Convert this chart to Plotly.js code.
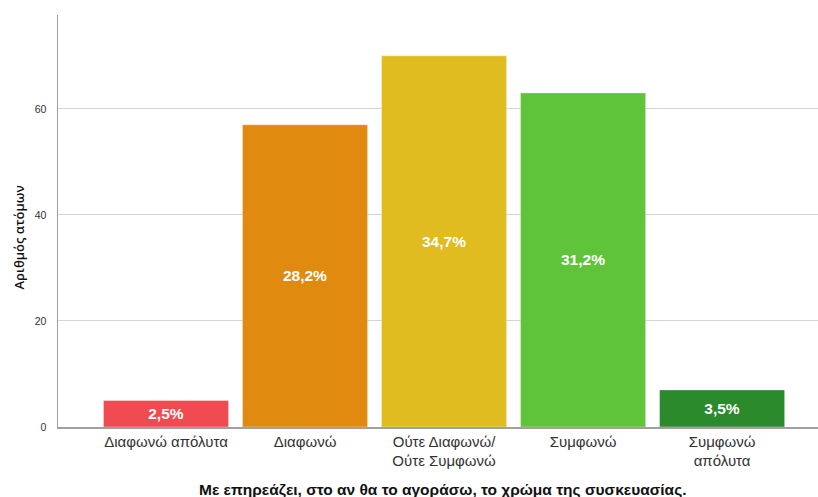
<!DOCTYPE html>
<html><head><meta charset="utf-8">
<script src="https://cdn.plot.ly/plotly-3.0.1.min.js"></script>
<style>html,body{margin:0;padding:0;background:#fff;}</style>
</head><body><div id="chart" style="width:818px;height:497px;"></div>
<script>
const categories = ["Διαφωνώ απόλυτα", "Διαφωνώ", "Ούτε Διαφωνώ/<br>Ούτε Συμφωνώ", "Συμφωνώ", "Συμφωνώ<br>απόλυτα"];
const counts = [5, 57, 70, 63, 7];
const percentLabels = ["2,5%", "28,2%", "34,7%", "31,2%", "3,5%"];
const barColors = ["#EF4B50", "#E08A10", "#E0BC20", "#60C43A", "#2B8A2B"];
const xTitle = "Με επηρεάζει, στο αν θα το αγοράσω, το χρώμα της συσκευασίας.";
const yTitle = "Αριθμός ατόμων";

const trace = {
  type: "bar",
  x: [0,1,2,3,4],
  y: counts,
  text: percentLabels,
  textposition: "inside",
  insidetextanchor: "middle",
  textfont: {family: "Liberation Sans, Arial, sans-serif", size: 15.5, color: "#ffffff", weight: "bold"},
  marker: {color: barColors, line: {color: "rgba(255,255,255,0.35)", width: 1}},
  hoverinfo: "none"
};

const layout = {
  width: 818, height: 497,
  margin: {l: 58, r: 0, t: 15, b: 70},
  paper_bgcolor: "#ffffff", plot_bgcolor: "#ffffff",
  showlegend: false,
  bargap: 0.1,
  font: {family: "Liberation Sans, Arial, sans-serif", color: "#333"},
  xaxis: {
    range: [-0.777, 4.69],
    tickmode: "array", tickvals: [0,1,2,3,4], ticktext: categories,
    tickfont: {size: 15, color: "#333"},
    showline: true, linecolor: "#a0a0a0", linewidth: 1.5,
    showgrid: false, zeroline: false, ticks: "", ticklen: 0
  },
  yaxis: {
    range: [0, 77.7],
    tickvals: [0, 20, 40, 60],
    tickfont: {size: 10.5, color: "#333"},
    showline: true, linecolor: "#a0a0a0", linewidth: 1.5,
    showgrid: true, gridcolor: "#d4d4d4", gridwidth: 1,
    zeroline: false, ticks: "", ticklabelstandoff: 8
  },
  annotations: [{
    text: "<b>" + xTitle + "</b>",
    xref: "paper", yref: "paper",
    x: 0.506, y: 0, yshift: -62, xanchor: "center", yanchor: "middle",
    showarrow: false, font: {size: 15.5, color: "#111"}
  }, {
    text: yTitle,
    xref: "paper", yref: "paper",
    x: 0, xshift: -39, y: 0.46, xanchor: "center", yanchor: "middle",
    textangle: -90,
    showarrow: false, font: {family: "Open Sans, sans-serif", size: 13, color: "#111", weight: 600}
  }]
};

Plotly.newPlot("chart", [trace], layout, {displayModeBar: false, staticPlot: true});
</script></body></html>
